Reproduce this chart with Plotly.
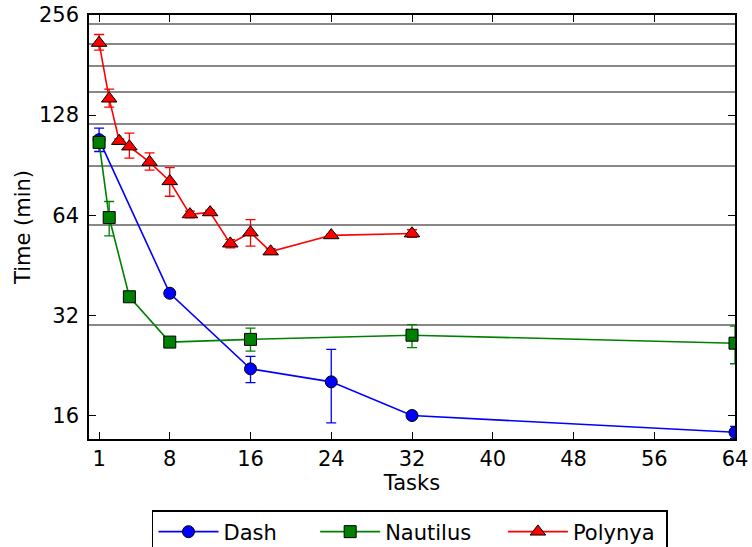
import math
import plotly.graph_objects as go

# Data
dash_x = [1, 8, 16, 24, 32, 64]
dash_y = [108, 37.3, 22.1, 20.2, 16.0, 14.25]
dash_ep = [9, 0, 2.0, 5.1, 0, 0.6]
dash_em = [8.5, 0, 2.0, 5.0, 0, 0.6]

naut_x = [1, 2, 4, 8, 16, 32, 64]
naut_y = [106, 63, 36.4, 26.6, 27.1, 27.9, 26.4]
naut_ep = [2, 7.4, 0, 0, 2.2, 2.1, 3.3]
naut_em = [2, 7.5, 0, 0, 2.1, 2.3, 3.5]

poly_x = [1, 2, 3, 4, 6, 8, 10, 12, 14, 16, 18, 24, 32]
poly_y = [211, 143.5, 107, 103, 92.5, 81, 64.4, 65.3, 52.6, 56.8, 49.8, 55.7, 56.4]
poly_ep = [12.7, 9.7, 1.5, 10, 6, 8, 1.5, 1, 1.5, 5.3, 1, 0.5, 1.5]
poly_em = [10.3, 8.2, 1.5, 8, 5, 8, 1.5, 1, 1.5, 5.1, 1, 0.5, 1.5]

x_ticks = [1, 8, 16, 24, 32, 40, 48, 56, 64]
y_ticks = [16, 32, 64, 128, 256]
grid_vals = [30, 60, 90, 120, 150, 180, 210, 240]

FONT = "DejaVu Sans"
FS = 21
NB = "\u00a0"

def series(name, x, y, ep, em, color, symbol, size):
    return go.Scatter(
        x=x, y=y, name=name, mode="lines+markers",
        line=dict(color=color, width=1.6),
        marker=dict(symbol=symbol, size=size, color=color,
                    line=dict(color="black", width=1)),
        error_y=dict(type="data", symmetric=False, array=ep, arrayminus=em,
                     color=color, thickness=1.3, width=5),
        cliponaxis=True,
    )

fig = go.Figure()
fig.add_trace(series("Dash" + NB * 5, dash_x, dash_y, dash_ep, dash_em, "#0000ff", "circle", 12))
fig.add_trace(series("Nautilus" + NB * 4, naut_x, naut_y, naut_ep, naut_em, "#008000", "square", 12))
fig.add_trace(series("Polynya" + NB * 1, poly_x, poly_y, poly_ep, poly_em, "#ff0000", "triangle-up", 13.5))

fig.update_layout(
    width=752, height=547,
    margin=dict(l=89, r=17, t=15, b=108, autoexpand=False),
    paper_bgcolor="white", plot_bgcolor="white",
    font=dict(family=FONT, size=FS, color="black"),
    showlegend=True,
    legend=dict(
        orientation="h", x=0.0975, xanchor="left", y=-0.1675, yanchor="top",
        bordercolor="black", borderwidth=1.5, bgcolor="white",
        font=dict(family=FONT, size=FS),
        itemwidth=60,
    ),
)

fig.update_xaxes(
    range=[0, 64], tickmode="array", tickvals=x_ticks,
    ticks="inside", ticklen=7, tickwidth=1, tickcolor="black",
    showline=True, linecolor="black", linewidth=1.5, mirror="ticks",
    showgrid=False, zeroline=False,
    ticklabelstandoff=0,
    title=dict(text="Tasks", standoff=5, font=dict(size=FS)),
)
fig.update_yaxes(
    type="log", range=[math.log10(13.6), math.log10(256)],
    tickmode="array", tickvals=y_ticks, ticktext=[str(v) for v in y_ticks],
    ticks="inside", ticklen=7, tickwidth=1, tickcolor="black",
    showline=True, linecolor="black", linewidth=1.5, mirror="ticks",
    showgrid=False, zeroline=False,
    minor=dict(tickmode="array", tickvals=grid_vals, ticks="",
               showgrid=True, gridcolor="#888888", gridwidth=2),
    ticklabelstandoff=4,
    title=dict(text="Time (min)", standoff=3, font=dict(size=FS)),
)

fig.write_html("out.html")
